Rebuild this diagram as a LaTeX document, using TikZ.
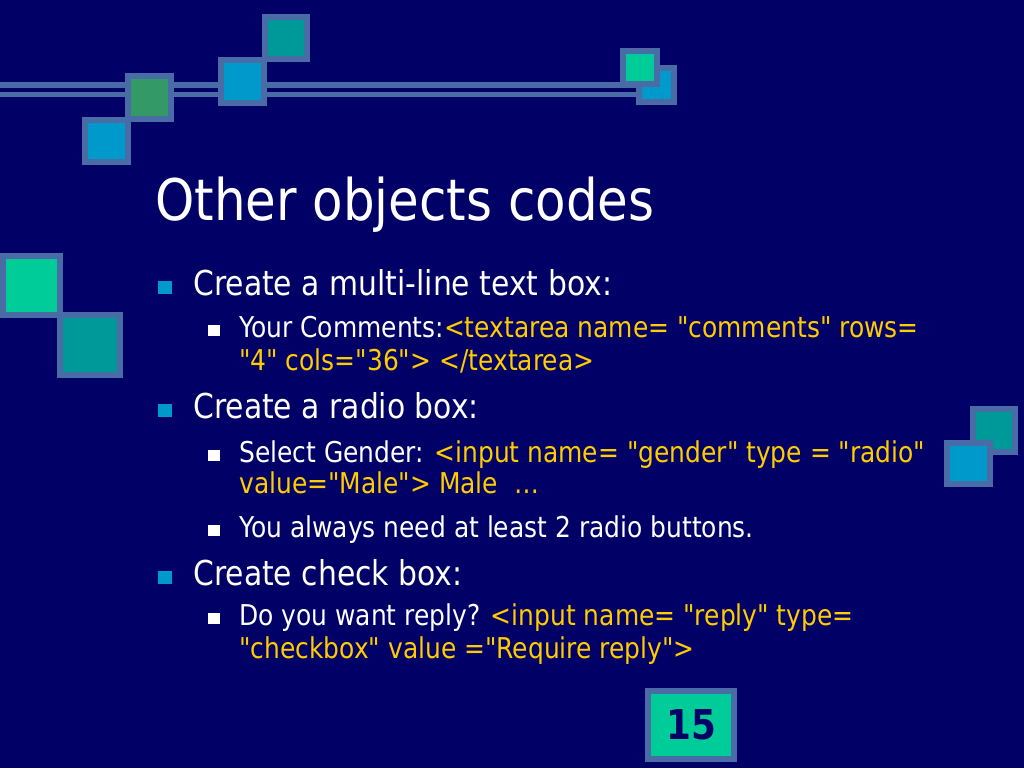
\documentclass[tikz,border=0pt]{standalone}
\usepackage{fontspec}
\setmainfont[FakeStretch=0.87,Ligatures=TeXOff]{DejaVu Sans}
\usepackage{tikz}
\usetikzlibrary{%
    calc, %
    backgrounds, %
    positioning%
}

\definecolor{slidebg}{HTML}{000066}
\definecolor{tileedge}{HTML}{4A6CA6}
\definecolor{tileteal}{HTML}{009999}
\definecolor{tileblue}{HTML}{0099CC}
\definecolor{tilegreen}{HTML}{339966}
\definecolor{tilemint}{HTML}{00CC99}
\definecolor{codeyellow}{HTML}{FFCC00}

\tikzset{
	tile/.style={draw=tileedge, line width=4.5pt},
	slidetitle/.style={anchor=base west, inner sep=0pt, text=white, font=\fontsize{43}{50}\selectfont},
	lvlone/.style={anchor=base west, inner sep=0pt, text=white, font=\fontsize{25.7}{30}\selectfont},
	lvltwo/.style={anchor=base west, inner sep=0pt, text=white, font=\fontsize{21.5}{26}\selectfont},
	dotone/.style={fill=tileblue},
	dottwo/.style={fill=white}
}
\newcommand{\code}[1]{\textcolor{codeyellow}{#1}}

\begin{document}
\begin{tikzpicture}[x=0.75pt, y=-0.75pt]

				\useasboundingbox (0,0) rectangle (1024,768);
				\fill[slidebg] (0,0) rectangle (1024,768);

				% double rule along the top
				\fill[tileedge] (0,82) rectangle (645,97);
				\fill[slidebg] (0,88) rectangle (645,92);

				% tiles, top left
				\draw[tile, fill=tileteal] (265,17) rectangle (307,59);
				\draw[tile, fill=tileblue] (221,60) rectangle (264,103);
				\draw[tile, fill=tileblue] (85,120) rectangle (128,162);
				\draw[tile, fill=tilegreen] (128,76) rectangle (171,119);
				% tiles, top right
				\draw[tile, fill=tileblue] (639,68) rectangle (674,102);
				\draw[tile, fill=tilemint] (623,51) rectangle (657,84);
				% tiles, left
				\draw[tile, fill=tilemint] (3,256) rectangle (60,315);
				\draw[tile, fill=tileteal] (60,315) rectangle (120,375);
				% tiles, right
				\draw[tile, fill=tileteal] (973,409) rectangle (1015,452);
				\draw[tile, fill=tileblue] (947,443) rectangle (990,484);

				% title
				\node[slidetitle] (title) at (155,220) {Other objects codes};

				% bullets
				\fill[dotone] (158,281) rectangle (172,294);
				\fill[dotone] (158,404) rectangle (172,417);
				\fill[dotone] (158,571) rectangle (172,584);
				\fill[dottwo] (208,325) rectangle (220,336);
				\fill[dottwo] (208,450) rectangle (220,461);
				\fill[dottwo] (208,525) rectangle (220,536);
				\fill[dottwo] (208,613) rectangle (220,624);

				\node[lvlone] (textbox) at (193,295) {Create a multi-line text box:};
				\node[lvltwo] (comments) at (239,337) {Your Comments:\code{<textarea name= "comments" rows=}};
				\node[lvltwo, text=codeyellow] (commentsb) at (239,370) {"4" cols="36"> </textarea>};

				\node[lvlone] (radio) at (193,418) {Create a radio box:};
				\node[lvltwo] (gender) at (239,462) {Select Gender: \code{<input name= "gender" type = "radio"}};
				\node[lvltwo, text=codeyellow] (genderb) at (239,493) {value="Male"> Male\ \ …};
				\node[lvltwo] (always) at (239,537) {You always need at least 2 radio buttons.};

				\node[lvlone] (check) at (193,585) {Create check box:};
				\node[lvltwo] (reply) at (239,625) {Do you want reply? \code{<input name= "reply" type=}};
				\node[lvltwo, text=codeyellow] (replyb) at (239,658) {"checkbox" value ="Require reply">};

				% page number
				\draw[tile, fill=tilemint] (648,691) rectangle (734,759);
				\node[text=slidebg, font=\fontsize{30.8}{36}\selectfont\bfseries] (pageno) at (691,725) {15};

\end{tikzpicture}
\end{document}
